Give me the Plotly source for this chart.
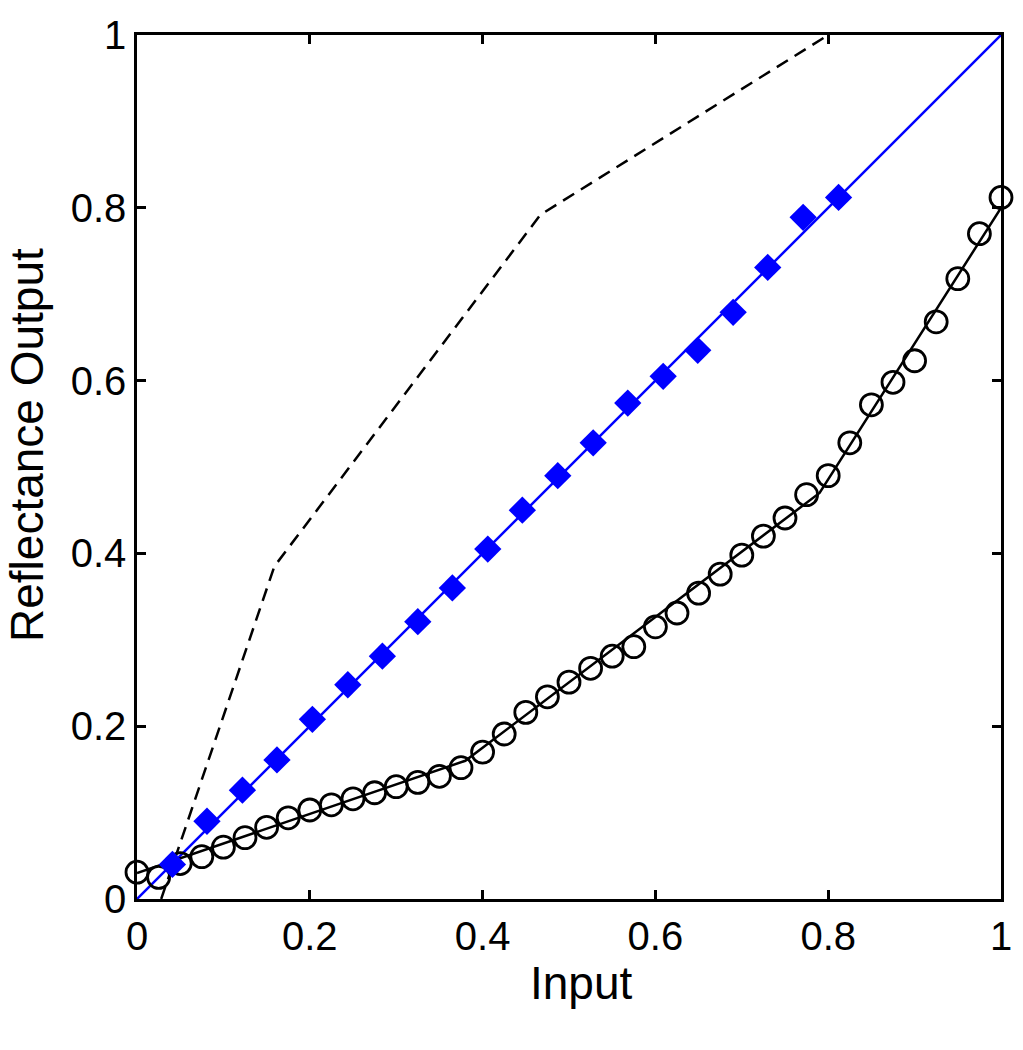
import plotly.graph_objects as go

# Measured reflectance (open circles)
circle_x = [0.0, 0.025, 0.05, 0.075, 0.1, 0.125, 0.15, 0.175, 0.2, 0.225, 0.25, 0.275,
            0.3, 0.325, 0.35, 0.375, 0.4, 0.425, 0.45, 0.475, 0.5, 0.525, 0.55, 0.575,
            0.6, 0.625, 0.65, 0.675, 0.7, 0.725, 0.75, 0.775, 0.8, 0.825, 0.85, 0.875,
            0.9, 0.925, 0.95, 0.975, 1.0]
circle_y = [0.031, 0.025, 0.041, 0.049, 0.060, 0.071, 0.083, 0.094, 0.103, 0.109, 0.116, 0.123,
            0.130, 0.135, 0.142, 0.152, 0.170, 0.191, 0.216, 0.234, 0.251, 0.267, 0.281, 0.292,
            0.315, 0.331, 0.354, 0.376, 0.398, 0.420, 0.441, 0.468, 0.490, 0.528, 0.572, 0.598,
            0.623, 0.668, 0.718, 0.770, 0.812]

# Fitted response curve (solid black)
fit_x = [0.0, 0.38, 0.79, 1.0]
fit_y = [0.030, 0.160, 0.470, 0.800]

# Correction curve (dashed black)
corr_x = [0.028, 0.159, 0.467, 0.800]
corr_y = [0.0, 0.385, 0.792, 1.0]

# Corrected output (blue diamonds)
diamond_x = [0.041, 0.081, 0.122, 0.162, 0.203, 0.244, 0.284, 0.325, 0.365, 0.406,
             0.446, 0.487, 0.528, 0.568, 0.609, 0.649, 0.690, 0.730, 0.771, 0.812]
diamond_y = [0.040, 0.090, 0.126, 0.161, 0.208, 0.248, 0.281, 0.321, 0.360, 0.405,
             0.450, 0.490, 0.528, 0.574, 0.605, 0.635, 0.679, 0.731, 0.789, 0.812]

# Identity line (blue)
ident_x = [0.0, 1.0]
ident_y = [0.0, 1.0]

tick_vals = [0, 0.2, 0.4, 0.6, 0.8, 1]
tick_text = ["0", "0.2", "0.4", "0.6", "0.8", "1"]

x_title = "Input"
y_title = "Reflectance Output"

FONT = "Liberation Sans, Arial, sans-serif"

fig = go.Figure()
fig.add_trace(go.Scatter(x=corr_x, y=corr_y, mode="lines",
                         line=dict(color="black", width=2.5, dash="13px,8px"),
                         showlegend=False))
fig.add_trace(go.Scatter(x=ident_x, y=ident_y, mode="lines",
                         line=dict(color="#0000FF", width=2.5), showlegend=False))
fig.add_trace(go.Scatter(x=fit_x, y=fit_y, mode="lines",
                         line=dict(color="black", width=2.5), showlegend=False))
fig.add_trace(go.Scatter(x=circle_x, y=circle_y, mode="markers",
                         marker=dict(symbol="circle-open", size=22, color="black",
                                     line=dict(width=2.8, color="black")),
                         showlegend=False, cliponaxis=False))
fig.add_trace(go.Scatter(x=diamond_x, y=diamond_y, mode="markers",
                         marker=dict(symbol="diamond", size=21, color="#0000FF",
                                     line=dict(width=0)),
                         showlegend=False, cliponaxis=False))

axis_common = dict(range=[0, 1], tickvals=tick_vals, ticktext=tick_text,
                   ticks="inside", ticklen=9, tickwidth=2.5, tickcolor="black",
                   showline=True, linecolor="black", linewidth=2.5, mirror="ticks",
                   showgrid=False, zeroline=False,
                   tickfont=dict(family=FONT, size=40, color="black"))

fig.update_xaxes(**axis_common)
fig.update_yaxes(**axis_common)

fig.add_annotation(text=x_title, xref="paper", yref="paper", x=0.5, y=0,
                   xshift=12, yshift=-84, xanchor="center", yanchor="middle",
                   showarrow=False, font=dict(family=FONT, size=46, color="black"))
fig.add_annotation(text=y_title, xref="paper", yref="paper", x=0, y=0.5255,
                   xshift=-110, xanchor="center", yanchor="middle", textangle=-90,
                   showarrow=False, font=dict(family=FONT, size=46, color="black"))

fig.update_layout(width=1023, height=1050,
                  margin=dict(l=137, r=22, t=35, b=151),
                  plot_bgcolor="white", paper_bgcolor="white")

fig.write_html("out.html", config={"displayModeBar": False},
               post_script="document.body.style.margin='0';")
